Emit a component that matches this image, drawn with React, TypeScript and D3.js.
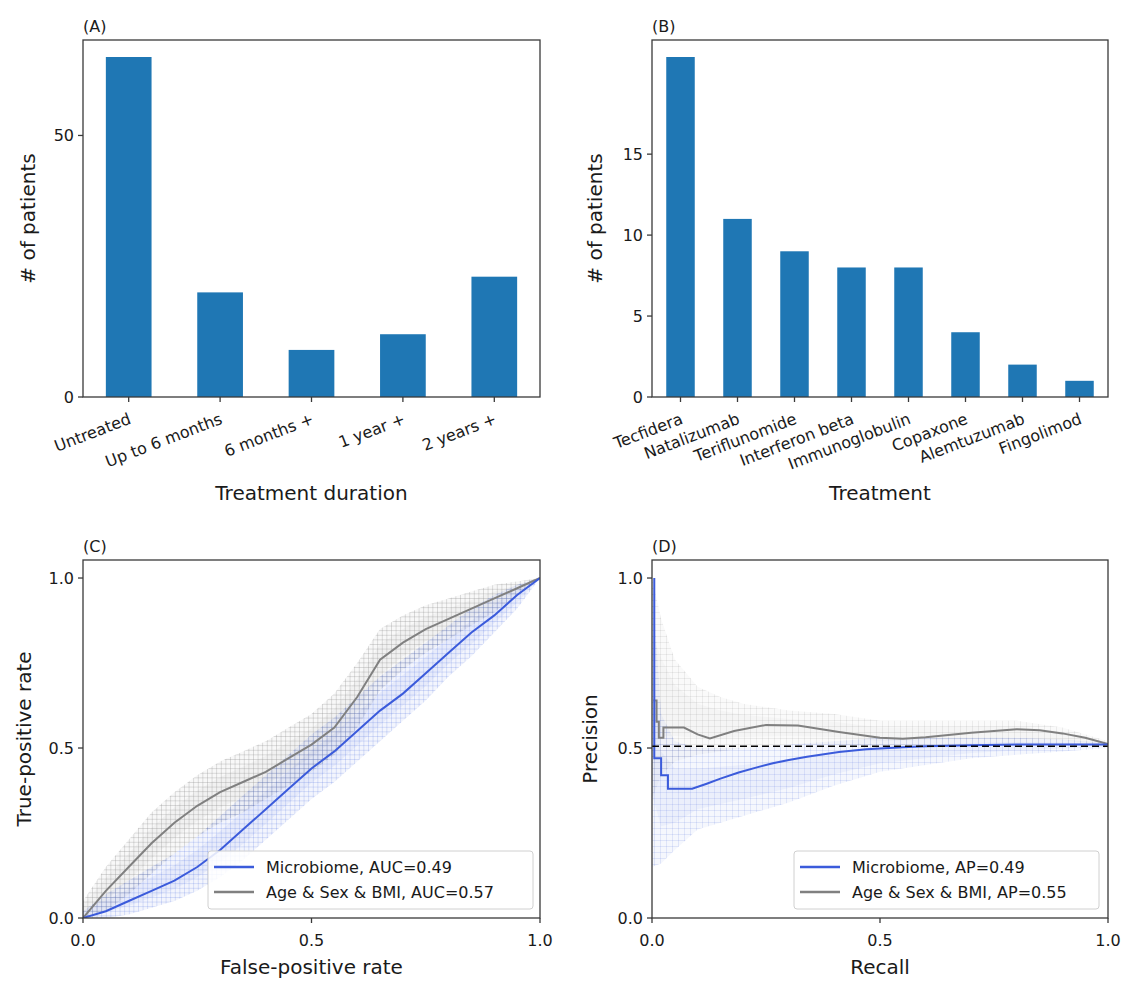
import React from 'react'
import * as d3 from 'd3'

// panel A: treatment duration
const durationCats = ['Untreated', 'Up to 6 months', '6 months +', '1 year +', '2 years +']
const durationCounts = [65, 20, 9, 12, 23]
const durationTicks = [0, 50]

// panel B: treatment
const treatmentCats = ['Tecfidera', 'Natalizumab', 'Teriflunomide', 'Interferon beta', 'Immunoglobulin', 'Copaxone', 'Alemtuzumab', 'Fingolimod']
const treatmentCounts = [21, 11, 9, 8, 8, 4, 2, 1]
const treatmentTicks = [0, 5, 10, 15]

const rateTicks = [0, 0.5, 1]

// panel C: ROC
const fpr = [0, 0.05, 0.1, 0.15, 0.2, 0.25, 0.3, 0.35, 0.4, 0.45, 0.5, 0.55, 0.6, 0.65, 0.7, 0.75, 0.8, 0.85, 0.9, 0.95, 1]
const tprMicrobiome = [0, 0.02, 0.05, 0.08, 0.11, 0.15, 0.2, 0.26, 0.32, 0.38, 0.44, 0.49, 0.55, 0.61, 0.66, 0.72, 0.78, 0.84, 0.89, 0.95, 1]
const tprMicrobiomeLo = [0, 0, 0.01, 0.03, 0.05, 0.08, 0.12, 0.17, 0.23, 0.29, 0.35, 0.4, 0.46, 0.52, 0.58, 0.64, 0.71, 0.77, 0.84, 0.91, 1]
const tprMicrobiomeHi = [0.02, 0.07, 0.11, 0.15, 0.19, 0.24, 0.3, 0.36, 0.42, 0.48, 0.54, 0.59, 0.65, 0.71, 0.76, 0.81, 0.86, 0.91, 0.95, 0.98, 1]
const tprClinical = [0, 0.08, 0.15, 0.22, 0.28, 0.33, 0.37, 0.4, 0.43, 0.47, 0.51, 0.56, 0.65, 0.76, 0.81, 0.85, 0.88, 0.91, 0.94, 0.97, 1]
const tprClinicalLo = [0, 0.02, 0.07, 0.13, 0.19, 0.24, 0.28, 0.31, 0.35, 0.39, 0.43, 0.48, 0.56, 0.67, 0.73, 0.78, 0.82, 0.86, 0.9, 0.95, 1]
const tprClinicalHi = [0.05, 0.15, 0.23, 0.31, 0.37, 0.42, 0.46, 0.49, 0.52, 0.56, 0.6, 0.66, 0.75, 0.85, 0.89, 0.92, 0.94, 0.96, 0.98, 0.99, 1]

// panel D: precision-recall (repeated recall values are the vertical steps)
const recallMicrobiome = [0.005, 0.005, 0.02, 0.02, 0.035, 0.035, 0.088, 0.12, 0.15, 0.19, 0.23, 0.265, 0.3, 0.34, 0.41, 0.47, 0.55, 0.6, 0.7, 0.8, 0.9, 1]
const precisionMicrobiome = [1, 0.47, 0.47, 0.42, 0.42, 0.38, 0.38, 0.395, 0.41, 0.428, 0.443, 0.455, 0.465, 0.474, 0.488, 0.496, 0.502, 0.505, 0.508, 0.51, 0.51, 0.51]
const recallClinical = [0.003, 0.01, 0.01, 0.015, 0.015, 0.025, 0.025, 0.07, 0.1, 0.127, 0.18, 0.25, 0.32, 0.41, 0.5, 0.55, 0.6, 0.7, 0.8, 0.85, 0.9, 0.95, 1]
const precisionClinical = [0.64, 0.64, 0.577, 0.577, 0.53, 0.53, 0.56, 0.56, 0.54, 0.528, 0.55, 0.568, 0.566, 0.547, 0.53, 0.527, 0.532, 0.545, 0.555, 0.552, 0.543, 0.53, 0.512]
const recallBand = [0, 0.02, 0.05, 0.1, 0.15, 0.2, 0.3, 0.4, 0.5, 0.6, 0.7, 0.8, 0.9, 1]
const precisionMicrobiomeLo = [0.15, 0.16, 0.2, 0.26, 0.28, 0.3, 0.34, 0.39, 0.43, 0.45, 0.47, 0.48, 0.49, 0.5]
const precisionMicrobiomeHi = [1, 0.6, 0.52, 0.5, 0.5, 0.5, 0.51, 0.52, 0.53, 0.53, 0.53, 0.53, 0.525, 0.515]
const precisionClinicalLo = [0.35, 0.42, 0.46, 0.48, 0.49, 0.5, 0.51, 0.51, 0.5, 0.505, 0.51, 0.515, 0.51, 0.505]
const precisionClinicalHi = [1, 0.88, 0.76, 0.68, 0.65, 0.63, 0.61, 0.6, 0.58, 0.58, 0.58, 0.58, 0.56, 0.52]
const baselinePrecision = 0.505

const FONT = 'DejaVu Sans, Verdana, sans-serif'
const FRAME = '#3a3a3a'
const TEXT = '#1a1a1a'
const BAR = '#1f77b4'
const BLUE = '#3b5bdb'
const GRAY = '#808080'

function BarPanel({ x0, x1, y0, y1, cats, counts, ticks, title, xLabel, yLabelX }) {
  const xs = d3.scaleBand().domain(cats).range([x0, x1]).paddingInner(0.5).paddingOuter(0.25)
  const ys = d3.scaleLinear().domain([0, d3.max(counts) * 1.05]).range([y1, y0])
  return (
    <g fontFamily={FONT} fill={TEXT}>
      <text x={x0} y={y0 - 8} fontSize={16}>{title}</text>
      {cats.map((c, i) => (
        <rect key={c} x={xs(c)} y={ys(counts[i])} width={xs.bandwidth()} height={ys(0) - ys(counts[i])} fill={BAR} />
      ))}
      <rect x={x0} y={y0} width={x1 - x0} height={y1 - y0} fill="none" stroke={FRAME} strokeWidth={1.3} />
      {ticks.map(t => (
        <g key={t}>
          <line x1={x0 - 5} x2={x0} y1={ys(t)} y2={ys(t)} stroke={FRAME} strokeWidth={1.3} />
          <text x={x0 - 9} y={ys(t)} dy="0.36em" textAnchor="end" fontSize={16}>{t}</text>
        </g>
      ))}
      {cats.map(c => {
        const cx = xs(c) + xs.bandwidth() / 2
        return (
          <g key={c}>
            <line x1={cx} x2={cx} y1={y1} y2={y1 + 5} stroke={FRAME} strokeWidth={1.3} />
            <text transform={`translate(${cx - 1},${y1 + 15}) rotate(-21)`} dy="0.75em" textAnchor="end" fontSize={16}>{c}</text>
          </g>
        )
      })}
      <text x={(x0 + x1) / 2} y={500} textAnchor="middle" fontSize={20}>{xLabel}</text>
      <text transform={`translate(${yLabelX},${(y0 + y1) / 2}) rotate(-90)`} textAnchor="middle" fontSize={20}>
        # of patients
      </text>
    </g>
  )
}

function Band({ xs, ys, xv, lo, hi, color, mesh, base }) {
  const pts = xv.map((x, i) => ({ x, lo: lo[i], hi: hi[i] }))
  const outer = d3.area().x(d => xs(d.x)).y0(d => ys(d.lo)).y1(d => ys(d.hi))
  const inner = d3.area().x(d => xs(d.x))
    .y0(d => ys(d.lo + (d.hi - d.lo) * 0.25))
    .y1(d => ys(d.hi - (d.hi - d.lo) * 0.25))
  return (
    <g>
      <path d={outer(pts)} fill={color} fillOpacity={base} />
      <path d={inner(pts)} fill={color} fillOpacity={base} />
      <path d={outer(pts)} fill={`url(#${mesh})`} />
    </g>
  )
}

function Legend({ x, y, w, items }) {
  return (
    <g fontFamily={FONT}>
      <rect x={x} y={y} width={w} height={58} rx={3} fill="#fff" fillOpacity={0.85} stroke="#d0d0d0" />
      {items.map((it, i) => (
        <g key={it.label}>
          <line x1={x + 6} x2={x + 46} y1={y + 16 + i * 25} y2={y + 16 + i * 25} stroke={it.color} strokeWidth={2.5} />
          <text x={x + 58} y={y + 16 + i * 25} dy="0.36em" fontSize={16} fill={TEXT}>{it.label}</text>
        </g>
      ))}
    </g>
  )
}

function RatePanel({ x0, x1, y0, y1, title, xLabel, yLabel, yLabelX, clip, children }) {
  const xs = d3.scaleLinear().domain([0, 1]).range([x0, x1])
  const ys = d3.scaleLinear().domain([0, 1.053]).range([y1, y0])
  return (
    <g fontFamily={FONT} fill={TEXT}>
      <text x={x0} y={y0 - 8} fontSize={16}>{title}</text>
      <clipPath id={clip}><rect x={x0} y={y0} width={x1 - x0} height={y1 - y0} /></clipPath>
      <g clipPath={`url(#${clip})`}>{children(xs, ys)}</g>
      <rect x={x0} y={y0} width={x1 - x0} height={y1 - y0} fill="none" stroke={FRAME} strokeWidth={1.3} />
      {rateTicks.map(t => (
        <g key={t}>
          <line x1={x0 - 5} x2={x0} y1={ys(t)} y2={ys(t)} stroke={FRAME} strokeWidth={1.3} />
          <text x={x0 - 9} y={ys(t)} dy="0.36em" textAnchor="end" fontSize={16}>{d3.format('.1f')(t)}</text>
          <line x1={xs(t)} x2={xs(t)} y1={y1} y2={y1 + 5} stroke={FRAME} strokeWidth={1.3} />
          <text x={xs(t)} y={y1 + 28} textAnchor="middle" fontSize={16}>{d3.format('.1f')(t)}</text>
        </g>
      ))}
      <text x={(x0 + x1) / 2} y={974} textAnchor="middle" fontSize={20}>{xLabel}</text>
      <text transform={`translate(${yLabelX},${(y0 + y1) / 2}) rotate(-90)`} textAnchor="middle" fontSize={20}>{yLabel}</text>
    </g>
  )
}

export default function App() {
  const lineOf = (xs, ys) => d3.line().x(d => xs(d[0])).y(d => ys(d[1]))
  return (
    <svg width={1126} height={982} style={{ position: 'absolute', left: 0, top: 0, background: '#fff' }}>
      <defs>
        <pattern id="meshGray" width={4.6} height={4.6} patternUnits="userSpaceOnUse">
          <path d="M0 0.3H4.6M0.3 0V4.6" stroke={GRAY} strokeWidth={0.7} strokeOpacity={0.45} />
        </pattern>
        <pattern id="meshBlue" width={4.6} height={4.6} patternUnits="userSpaceOnUse">
          <path d="M0 0.3H4.6M0.3 0V4.6" stroke={BLUE} strokeWidth={0.7} strokeOpacity={0.3} />
        </pattern>
        <pattern id="meshGrayV" width={6} height={6} patternUnits="userSpaceOnUse">
          <path d="M0.3 0V6M0 0.3H6" stroke={GRAY} strokeWidth={0.7} strokeOpacity={0.22} />
        </pattern>
        <pattern id="meshBlueV" width={6} height={6} patternUnits="userSpaceOnUse">
          <path d="M0.3 0V6M0 0.3H6" stroke={BLUE} strokeWidth={0.7} strokeOpacity={0.22} />
        </pattern>
      </defs>

      <BarPanel x0={83} x1={540} y0={40} y1={397} cats={durationCats} counts={durationCounts}
        ticks={durationTicks} title="(A)" xLabel="Treatment duration" yLabelX={35} />
      <BarPanel x0={652} x1={1108} y0={40} y1={397} cats={treatmentCats} counts={treatmentCounts}
        ticks={treatmentTicks} title="(B)" xLabel="Treatment" yLabelX={602} />

      <RatePanel x0={83} x1={540} y0={560} y1={918} title="(C)" xLabel="False-positive rate"
        yLabel="True-positive rate" yLabelX={31} clip="clipC">
        {(xs, ys) => (
          <g>
            <Band xs={xs} ys={ys} xv={fpr} lo={tprClinicalLo} hi={tprClinicalHi} color={GRAY} mesh="meshGray" base={0.06} />
            <Band xs={xs} ys={ys} xv={fpr} lo={tprMicrobiomeLo} hi={tprMicrobiomeHi} color={BLUE} mesh="meshBlue" base={0.06} />
            <path d={lineOf(xs, ys)(d3.zip(fpr, tprClinical))} fill="none" stroke={GRAY} strokeWidth={2} />
            <path d={lineOf(xs, ys)(d3.zip(fpr, tprMicrobiome))} fill="none" stroke={BLUE} strokeWidth={2} />
          </g>
        )}
      </RatePanel>
      <Legend x={208} y={851} w={325} items={[
        { label: 'Microbiome, AUC=0.49', color: BLUE },
        { label: 'Age & Sex & BMI, AUC=0.57', color: GRAY },
      ]} />

      <RatePanel x0={652} x1={1108} y0={560} y1={918} title="(D)" xLabel="Recall"
        yLabel="Precision" yLabelX={597} clip="clipD">
        {(xs, ys) => (
          <g>
            <Band xs={xs} ys={ys} xv={recallBand} lo={precisionClinicalLo} hi={precisionClinicalHi} color={GRAY} mesh="meshGrayV" base={0.04} />
            <Band xs={xs} ys={ys} xv={recallBand} lo={precisionMicrobiomeLo} hi={precisionMicrobiomeHi} color={BLUE} mesh="meshBlueV" base={0.05} />
            <path d={lineOf(xs, ys)(d3.zip(recallClinical, precisionClinical))} fill="none" stroke={GRAY} strokeWidth={2} />
            <path d={lineOf(xs, ys)(d3.zip(recallMicrobiome, precisionMicrobiome))} fill="none" stroke={BLUE} strokeWidth={2} />
            <line x1={xs(0)} x2={xs(1)} y1={ys(baselinePrecision)} y2={ys(baselinePrecision)} stroke="#000" strokeWidth={1.6} strokeDasharray="7,4" />
          </g>
        )}
      </RatePanel>
      <Legend x={794} y={851} w={305} items={[
        { label: 'Microbiome, AP=0.49', color: BLUE },
        { label: 'Age & Sex & BMI, AP=0.55', color: GRAY },
      ]} />
    </svg>
  )
}
